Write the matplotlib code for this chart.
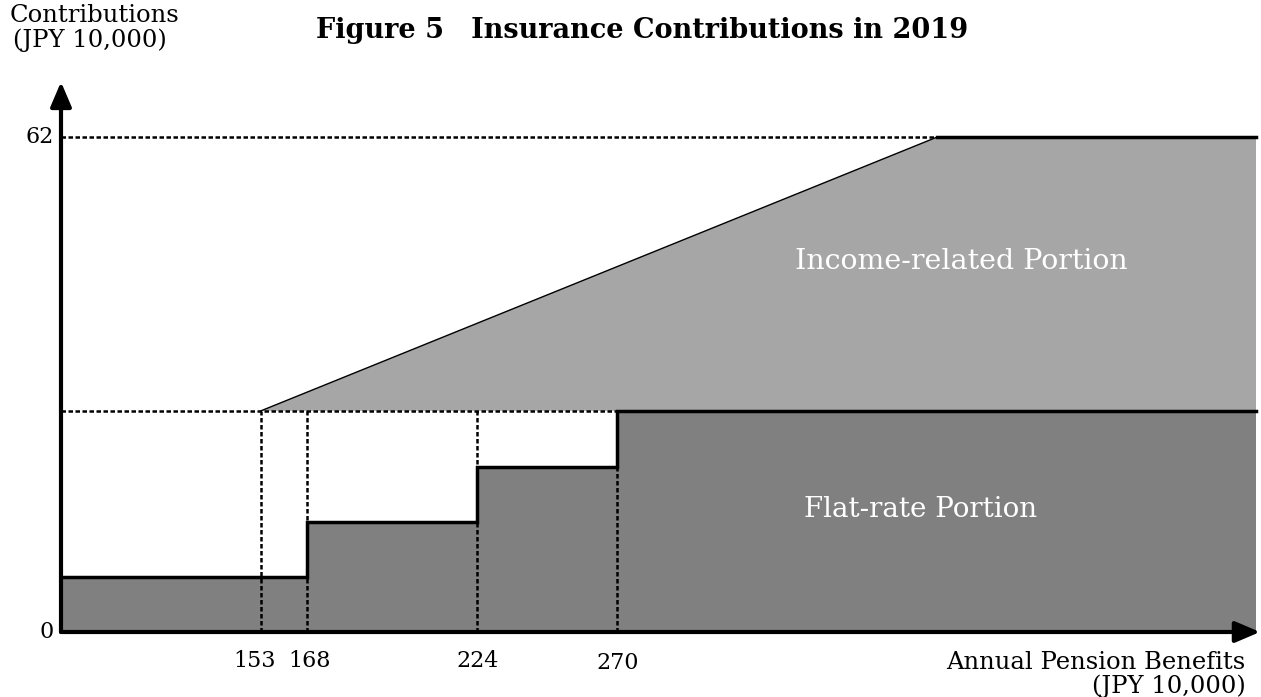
import matplotlib
matplotlib.use("Agg")
import matplotlib.pyplot as plt

# schematic values (JPY 10,000)
x_start, x_end = 87.4, 479.6
step_edges = [168, 224, 270]
flat_levels = [6.9, 13.8, 20.7, 27.7]
income_start = 153
cap_point = 375
cap_value = 62
tick_values = [153, 168, 224, 270]

dark = "#808080"
light = "#a6a6a6"

plt.rcParams["font.family"] = "DejaVu Serif"

fig = plt.figure(figsize=(12.61, 6.97), dpi=100)
ax = fig.add_axes([61 / 1261, 65 / 697, 1195 / 1261, 495 / 697])
ax.set_xlim(x_start, x_end)
ax.set_ylim(0, cap_value)
ax.axis("off")

flat_full = flat_levels[-1]

# flat-rate step outline
sx = [x_start] + [e for e in step_edges for _ in (0, 1)] + [x_end]
sy = []
for lv in flat_levels:
    sy += [lv, lv]
ax.fill_between(sx, 0, sy, color=dark, lw=0, zorder=1)
ax.plot(sx, sy, color="black", lw=2.5, zorder=4, solid_joinstyle="miter", clip_on=False)

# income-related portion
ix = [income_start, cap_point, x_end, x_end]
iy = [flat_full, cap_value, cap_value, flat_full]
ax.fill(ix, iy, color=light, lw=0, zorder=1)
ax.plot([income_start, cap_point], [flat_full, cap_value], color="black", lw=1, zorder=4)
ax.plot([cap_point, x_end], [cap_value, cap_value], color="black", lw=2.5, zorder=4, clip_on=False)
ax.plot([step_edges[-1], x_end], [flat_full, flat_full], color="black", lw=2, zorder=4, clip_on=False)

# dashed guides
dash = dict(color="black", lw=1.8, ls=(0, (1.8, 1.0)), zorder=3, clip_on=False)
ax.plot([x_start, cap_point], [cap_value, cap_value], **dash)
ax.plot([x_start, step_edges[-1]], [flat_full, flat_full], **dash)
for t in tick_values:
    ax.plot([t, t], [0, flat_full], **dash)

# axes with arrows
arrow = dict(arrowstyle="-|>,head_length=0.75,head_width=0.32", color="black", lw=3,
             shrinkA=0, shrinkB=0, mutation_scale=20)
ax.annotate("", xy=(x_end + 1.3, 0), xytext=(x_start, 0),
            arrowprops=arrow, annotation_clip=False, zorder=6)
ax.annotate("", xy=(x_start, 68.9), xytext=(x_start, 0),
            arrowprops=arrow, annotation_clip=False, zorder=6)

# tick labels
fs = 16
ax.text(x_start - 2.5, 0, "0", ha="right", va="center", fontsize=fs)
ax.text(x_start - 2.5, cap_value, str(cap_value), ha="right", va="center", fontsize=fs)
for t in tick_values:
    dx = -2 if t == tick_values[0] else 1 if t == tick_values[1] else 0
    dy = -3.9 if t == tick_values[-1] else -3.6
    ax.text(t + dx, dy, str(t), ha="center", va="center", fontsize=fs)

ax.text(x_end - 3.5, -3.8, "Annual Pension Benefits", ha="right", va="center", fontsize=17.5)
ax.text(x_end - 3.5, -6.8, "(JPY 10,000)", ha="right", va="center", fontsize=17.5)

fig.text(10 / 1261, 1 - 15 / 697, "Contributions", ha="left", va="center", fontsize=17.5)
fig.text(13 / 1261, 1 - 40 / 697, "(JPY 10,000)", ha="left", va="center", fontsize=17.5)

fig.text(642 / 1261, 1 - 30 / 697, "Figure 5\u3000Insurance Contributions in 2019",
         ha="center", va="center", fontsize=19.5, fontweight="bold",
         family=["DejaVu Serif", "Noto Sans CJK JP"])

ax.text(382.8, 46.4, "Income-related Portion", color="white", ha="center", va="center", fontsize=20.5, zorder=5)
ax.text(369.6, 15.4, "Flat-rate Portion", color="white", ha="center", va="center", fontsize=20, zorder=5)

fig.savefig("out.png", dpi=100)
